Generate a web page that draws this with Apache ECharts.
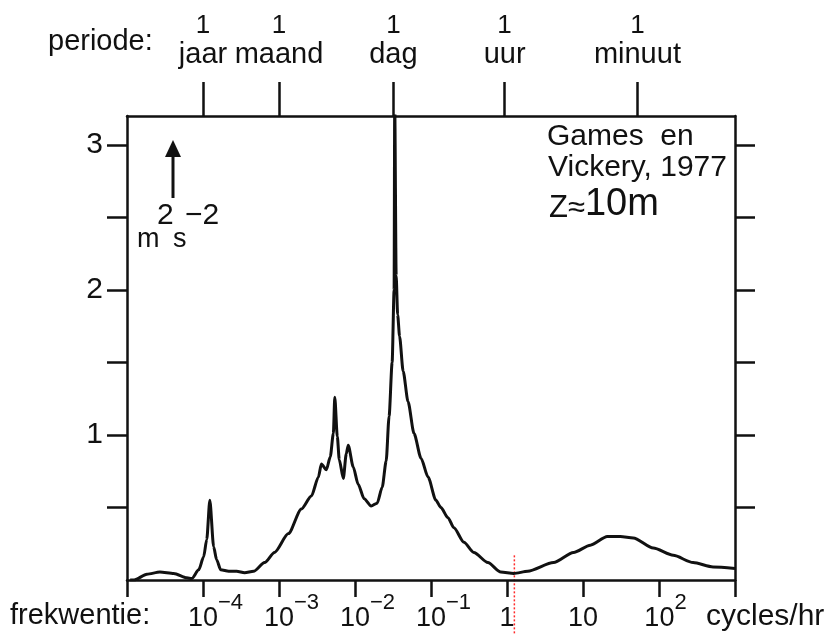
<!DOCTYPE html>
<html>
<head>
    <meta charset="utf-8">
    <title>Spectrum windsnelheid</title>
    <script src="https://cdn.jsdelivr.net/npm/echarts@6/dist/echarts.min.js"></script>
    <style>
        html, body { margin: 0; padding: 0; background: #fff; }
        #chart1 { width: 835px; height: 634px; }
    </style>
</head>
<body>
<div id="chart1"></div>
<script>
    // frekwentie (cycles/hr) en energie (m^2 s^-2)
    var freq = [
        1.1e-5, 1.24e-5, 1.83e-5, 2.71e-5, 4.13e-5, 6.12e-5, 7.12e-5,
        8.79e-5, 1.02e-4, 1.12e-4, 1.23e-4, 1.38e-4, 1.51e-4, 1.71e-4,
        2.18e-4, 2.77e-4, 3.53e-4, 4.63e-4, 6.46e-4, 8.73e-4, 1.33e-3,
        1.97e-3, 2.67e-3, 3.30e-3, 3.61e-3, 4.20e-3, 4.73e-3, 5.19e-3,
        5.42e-3, 5.85e-3, 6.21e-3, 7.02e-3, 7.67e-3, 8.14e-3, 9.48e-3,
        1.10e-2, 1.32e-2, 1.63e-2, 1.96e-2, 2.28e-2, 2.57e-2, 2.81e-2,
        3.08e-2, 3.27e-2, 3.33e-2, 3.48e-2, 3.64e-2, 3.86e-2, 4.30e-2,
        4.99e-2, 5.98e-2, 7.40e-2, 9.14e-2, 0.116, 0.135, 0.167, 0.200,
        0.271, 0.366, 0.560, 0.828, 1.23, 1.87, 4.10, 7.50, 12.5, 20.9,
        31.0, 45.9, 84.1, 154, 281, 514, 1000
    ];
    var energie = [
        0, 0.0, 0.04, 0.055, 0.045, 0.015, 0.01,
        0.07, 0.16, 0.28, 0.55, 0.23, 0.14, 0.07,
        0.06, 0.06, 0.05, 0.06, 0.12, 0.19, 0.32,
        0.49, 0.58, 0.71, 0.80, 0.76, 0.85, 1.01,
        1.26, 0.99, 0.83, 0.70, 0.87, 0.93, 0.78,
        0.66, 0.56, 0.51, 0.53, 0.64, 0.82, 1.13,
        1.50, 2.0, 3.3, 2.1, 1.83, 1.68, 1.44,
        1.23, 1.01, 0.84, 0.71, 0.55, 0.50, 0.43, 0.36,
        0.26, 0.19, 0.12, 0.055, 0.045, 0.06, 0.12, 0.19, 0.24, 0.30,
        0.30, 0.29, 0.22, 0.17, 0.12, 0.09, 0.08
    ];

    // periode-streepjes bovenaan (plaats zoals getekend)
    var periodeFreq = [1.0e-4, 1.0e-3, 0.032, 0.93, 52];
    var periodeNaam = ['jaar', 'maand', 'dag', 'uur', 'minuut'];

    // labels onderaan: exponenten van 10 (zonder 10^-5 en 10^3)
    var decadeExp = [-4, -3, -2, -1, 0, 1, 2];
    var yTicks = [0.5, 1, 1.5, 2, 2.5, 3];
    var yLabels = [1, 2, 3];

    // rode stippellijn bij ~1 cycle/hr
    var roodFreq = 1.25;
    var roodVan = 0.17;

    var font = '"Liberation Sans", Arial, sans-serif';
    var zwart = '#111';

    var punten = [];
    for (var i = 0; i < freq.length; i++) {
        punten.push([freq[i], energie[i]]);
    }

    function decadeLabel(v) {
        var n = Math.round(Math.log10(v));
        if (decadeExp.indexOf(n) < 0) return '';
        if (n === 0) return '{c|1}';
        if (n === 1) return '{c|10}';
        var sup = n < 0 ? '\u2212' + (-n) : '' + n;
        var st = sup.length > 1 ? 'b2' : 'b1';
        return '{' + st + '|10}{s|' + sup + '}';
    }

    var myChart = echarts.init(document.getElementById('chart1'));

    var option = {
        animation: false,
        backgroundColor: '#fff',
        textStyle: { fontFamily: font, color: zwart },
        grid: { left: 127, right: 100, top: 116, bottom: 54 },
        xAxis: [{
            type: 'log',
            position: 'bottom',
            min: 1e-5,
            max: 1e3,
            logBase: 10,
            axisLine: { show: true, onZero: false, lineStyle: { color: zwart, width: 2.5 } },
            axisTick: { show: true, length: 17, lineStyle: { color: zwart, width: 2.5 } },
            splitLine: { show: false },
            axisLabel: {
                margin: 25,
                color: zwart,
                fontFamily: font,
                formatter: decadeLabel,
                rich: {
                    c: { fontSize: 27, lineHeight: 27, padding: [13, 0, 0, 0], verticalAlign: 'bottom', fontFamily: font, color: zwart },
                    b1: { fontSize: 27, lineHeight: 27, padding: [0, 0, 0, 13], verticalAlign: 'bottom', fontFamily: font, color: zwart },
                    b2: { fontSize: 27, lineHeight: 27, padding: [0, 0, 0, 25], verticalAlign: 'bottom', fontFamily: font, color: zwart },
                    s: { fontSize: 22, lineHeight: 22, padding: [0, 0, 18, 0], verticalAlign: 'bottom', fontFamily: font, color: zwart }
                }
            }
        }, {
            type: 'log',
            position: 'top',
            min: 1e-5,
            max: 1e3,
            logBase: 10,
            axisLine: { show: true, onZero: false, lineStyle: { color: zwart, width: 2.5 } },
            axisTick: { show: true, length: 34, customValues: periodeFreq, lineStyle: { color: zwart, width: 2.5 } },
            splitLine: { show: false },
            axisLabel: {
                customValues: periodeFreq,
                margin: 46,
                formatter: function (v) {
                    var best = 0;
                    for (var k = 1; k < periodeFreq.length; k++) {
                        if (Math.abs(Math.log10(periodeFreq[k] / v)) < Math.abs(Math.log10(periodeFreq[best] / v))) best = k;
                    }
                    return '{one|1}\n{w|' + periodeNaam[best] + '}';
                },
                rich: {
                    one: { fontSize: 26, lineHeight: 26, align: 'center', fontFamily: font, color: zwart },
                    w: { fontSize: 29, lineHeight: 31, align: 'center', fontFamily: font, color: zwart }
                }
            }
        }],
        yAxis: [{
            type: 'value',
            position: 'left',
            min: 0,
            max: 3.2,
            axisLine: { show: true, lineStyle: { color: zwart, width: 2.5 } },
            axisTick: { show: true, length: 20, customValues: yTicks, lineStyle: { color: zwart, width: 2.5 } },
            splitLine: { show: false },
            axisLabel: { customValues: yLabels, margin: 24, fontSize: 30, color: zwart, fontFamily: font }
        }, {
            type: 'value',
            position: 'right',
            min: 0,
            max: 3.2,
            axisLine: { show: true, lineStyle: { color: zwart, width: 2.5 } },
            axisTick: { show: true, length: 20, customValues: yTicks, lineStyle: { color: zwart, width: 2.5 } },
            splitLine: { show: false },
            axisLabel: { show: false }
        }],
        series: [{
            type: 'line',
            xAxisIndex: 0,
            yAxisIndex: 0,
            data: punten,
            showSymbol: false,
            smooth: 0.25,
            smoothMonotone: 'x',
            clip: true,
            lineStyle: { color: zwart, width: 3 }
        }]
    };

    myChart.setOption(option);

    // teksten, pijl en rode stippellijn
    var rx = myChart.convertToPixel({ xAxisIndex: 0 }, roodFreq);
    var ry = myChart.convertToPixel({ yAxisIndex: 0 }, roodVan);

    function tekst(id, x, y, t, size) {
        return { type: 'text', id: id, left: x, top: y, style: { text: t, fontSize: size, fontFamily: font, fill: zwart } };
    }

    myChart.setOption({
        graphic: [
            tekst('periode', 48, 27, 'periode:', 29),
            tekst('frek', 10, 601, 'frekwentie:', 29),
            tekst('cycles', 706, 602, 'cycles/hr', 30),
            tekst('games', 547, 122, 'Games  en', 30),
            tekst('vickery', 548, 153, 'Vickery, 1977', 30),
            {
                type: 'text', id: 'z', left: 549, top: 186,
                style: {
                    text: '{z|Z\u2248}{g|10m}', fontFamily: font, fill: zwart,
                    rich: {
                        z: { fontSize: 31, lineHeight: 38, verticalAlign: 'bottom', fontFamily: font, fill: zwart },
                        g: { fontSize: 38, lineHeight: 38, verticalAlign: 'bottom', fontFamily: font, fill: zwart }
                    }
                }
            },
            // eenheid m^2 s^-2
            tekst('u_m', 137, 226, 'm', 27),
            tekst('u_2', 157, 201, '2', 30),
            tekst('u_s', 173, 226, 's', 27),
            tekst('u_m2', 185, 201, '\u22122', 30),
            { type: 'line', id: 'pijl', shape: { x1: 173, y1: 154, x2: 173, y2: 198 }, style: { stroke: zwart, lineWidth: 3 } },
            { type: 'polygon', id: 'pijlkop', shape: { points: [[173, 140], [165, 157], [181, 157]] }, style: { fill: zwart } },
            { type: 'line', id: 'rood', shape: { x1: rx, y1: ry, x2: rx, y2: 634 }, style: { stroke: '#ff2a2a', lineWidth: 1.5, lineDash: [2, 2] } }
        ]
    });
</script>
</body>
</html>
